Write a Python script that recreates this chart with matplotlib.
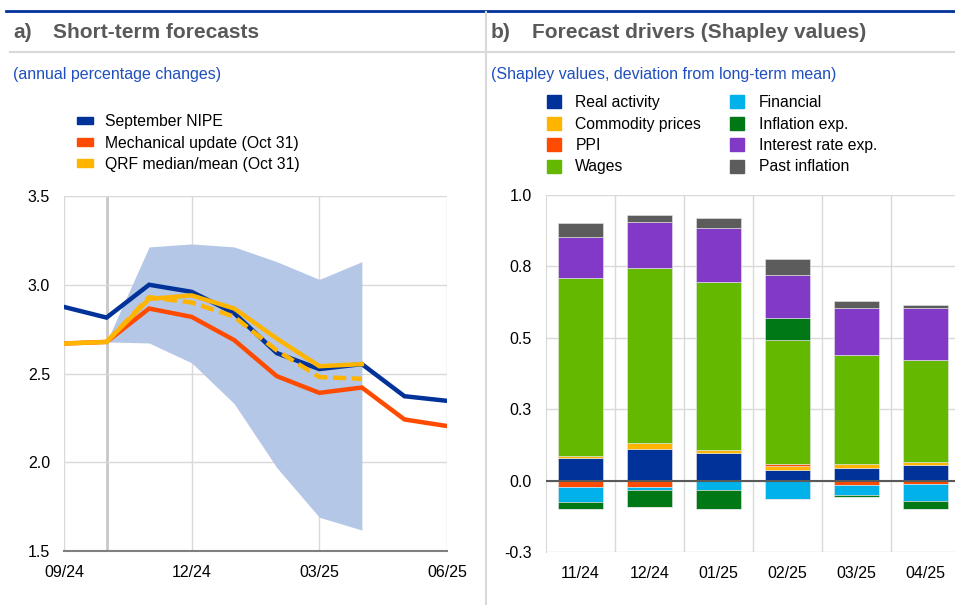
import numpy as np
import matplotlib
matplotlib.use('Agg')
import matplotlib.pyplot as plt
from matplotlib.lines import Line2D
from matplotlib.patches import Patch

plt.rcParams['font.family'] = ['Liberation Sans', 'DejaVu Sans']

#%% - Data, panel a
months = ['09/24', '10/24', '11/24', '12/24', '01/25', '02/25', '03/25', '04/25', '05/25', '06/25']
month_ticks = ['09/24', '12/24', '03/25', '06/25']
nipe = [2.875, 2.815, 3.00, 2.96, 2.84, 2.615, 2.525, 2.553, 2.372, 2.346]
mech = [2.669, 2.678, 2.866, 2.819, 2.688, 2.485, 2.391, 2.421, 2.241, 2.204]
qrf_mean = [2.669, 2.678, 2.92, 2.94, 2.866, 2.697, 2.541, 2.553]
qrf_median = [2.678, 2.93, 2.90, 2.82, 2.63, 2.48, 2.47]   # from 10/24
band_low = [2.678, 2.672, 2.56, 2.33, 1.97, 1.69, 1.618]   # from 10/24
band_high = [2.678, 3.213, 3.23, 3.213, 3.13, 3.03, 3.13]

#%% - Data, panel b
periods = ['11/24', '12/24', '01/25', '02/25', '03/25', '04/25']
drivers = ['Real activity', 'Commodity prices', 'PPI', 'Wages',
           'Financial', 'Inflation exp.', 'Interest rate exp.', 'Past inflation']
real_activity = [0.079, 0.111, 0.097, 0.036, 0.045, 0.054]
commodity = [0.006, 0.019, 0.009, 0.015, 0.014, 0.010]
ppi = [-0.023, -0.023, 0.0, 0.008, -0.017, -0.013]
wages = [0.624, 0.616, 0.588, 0.435, 0.381, 0.357]
financial = [-0.051, -0.010, -0.034, -0.065, -0.034, -0.058]
infl_exp = [-0.027, -0.058, -0.064, 0.076, -0.005, -0.030]
interest = [0.143, 0.161, 0.191, 0.150, 0.164, 0.184]
past_infl = [0.050, 0.024, 0.035, 0.056, 0.024, 0.009]
ytick_vals = [-0.25, 0.0, 0.25, 0.5, 0.75, 1.0]
ytick_labels = ['-0.3', '0.0', '0.3', '0.5', '0.8', '1.0']

#%% - Styles
dark_blue = '#003299'
orange = '#ff4b00'
yellow = '#ffb400'
driver_colors = ['#003299', '#ffb400', '#ff4b00', '#65b800',
                 '#00b1ea', '#007816', '#8139c6', '#5c5c5c']
grid_c = '#d9d9d9'
text_grey = '#595959'
sub_blue = '#1f4fbf'

W, H = 955, 605
fig = plt.figure(figsize=(W / 100, H / 100), dpi=100)

def fx(px):
    return px / W

def fy(py):
    return 1 - py / H

# header decoration
fig.add_artist(Line2D([fx(6), 1], [fy(11), fy(11)], color=dark_blue, lw=2))
fig.add_artist(Line2D([fx(10), 1], [fy(52), fy(52)], color=grid_c, lw=1.5))
fig.add_artist(Line2D([fx(486), fx(486)], [fy(12), 0], color=grid_c, lw=1.5))

fig.text(fx(13), fy(33), 'a)', fontsize=15, fontweight='bold', color=text_grey, va='center')
fig.text(fx(53), fy(33), 'Short-term forecasts', fontsize=15, fontweight='bold', color=text_grey, va='center')
fig.text(fx(491), fy(33), 'b)', fontsize=15, fontweight='bold', color=text_grey, va='center')
fig.text(fx(532), fy(33), 'Forecast drivers (Shapley values)', fontsize=15, fontweight='bold', color=text_grey, va='center')
fig.text(fx(13), fy(75), '(annual percentage changes)', fontsize=11.5, color=sub_blue, va='center')
fig.text(fx(491), fy(75), '(Shapley values, deviation from long-term mean)', fontsize=11.5, color=sub_blue, va='center')

#%% - Panel a
ax1 = fig.add_axes([fx(64), fy(551), fx(447 - 64), (551 - 196) / H])
x = np.arange(len(months))
xb = x[1:8]
ax1.fill_between(xb, band_low, band_high, color='#b4c7e7', lw=0, zorder=1)
ax1.axvline(1, color='#c8c8c8', lw=2, zorder=0.5)
ax1.plot(x, nipe, color=dark_blue, lw=3.2, zorder=3, solid_joinstyle='miter')
ax1.plot(x, mech, color=orange, lw=3.2, zorder=3, solid_joinstyle='miter')
ax1.plot(x[:8], qrf_mean, color=yellow, lw=3.2, zorder=4, solid_joinstyle='miter')
ax1.plot(xb, qrf_median, color=yellow, lw=3.2, ls=(0, (3, 1.3)), zorder=4)
ax1.set_xlim(0, 9)
ax1.set_ylim(1.5, 3.5)
ax1.set_yticks([1.5, 2.0, 2.5, 3.0, 3.5])
ax1.set_yticklabels(['1.5', '2.0', '2.5', '3.0', '3.5'])
ax1.set_xticks([months.index(m) for m in month_ticks])
ax1.set_xticklabels(month_ticks)
ax1.grid(True, color=grid_c, lw=1)
ax1.set_axisbelow(True)
for s in ['top', 'right', 'left']:
    ax1.spines[s].set_visible(False)
ax1.spines['bottom'].set_color('#7f7f7f')
ax1.spines['bottom'].set_linewidth(1.5)
ax1.spines['bottom'].set_zorder(5)
ax1.tick_params(length=0, labelsize=11.5, pad=10)
ax1.tick_params(axis='y', pad=10)

leg_handles = [Patch(color=dark_blue), Patch(color=orange), Patch(color=yellow)]
fig.legend(leg_handles, ['September NIPE', 'Mechanical update (Oct 31)', 'QRF median/mean (Oct 31)'],
           loc='upper left', bbox_to_anchor=(fx(63), fy(100)), frameon=False, fontsize=11.3,
           handlelength=1.0, handleheight=0.4, handletextpad=0.75, labelspacing=0.41)

#%% - Panel b
ax2 = fig.add_axes([fx(546), fy(552), fx(955 - 546), (552 - 195) / H])
cols = [real_activity, commodity, ppi, wages, financial, infl_exp, interest, past_infl]
xp = np.arange(len(periods))
pos_base = np.zeros(len(periods))
neg_base = np.zeros(len(periods))
handles = []
for name, vals, c in zip(drivers, cols, driver_colors):
    v = np.array(vals)
    pos = np.where(v > 0, v, 0)
    neg = np.where(v < 0, v, 0)
    ax2.bar(xp, pos, bottom=pos_base, width=0.66, color=c, edgecolor='#e8e8e8', lw=0.4, zorder=2)
    ax2.bar(xp, neg, bottom=neg_base, width=0.66, color=c, edgecolor='#e8e8e8', lw=0.4, zorder=2)
    pos_base += pos
    neg_base += neg
    handles.append(Patch(color=c, label=name))
ax2.axhline(0, color='#595959', lw=1.5, zorder=3)
ax2.set_xlim(-0.5, 5.43)
ax2.set_ylim(-0.25, 1.0)
ax2.set_yticks(ytick_vals)
ax2.set_yticklabels(ytick_labels)
ax2.set_xticks(xp)
ax2.set_xticklabels(periods)
ax2.set_xticks(xp[:-1] + 0.5, minor=True)
ax2.grid(True, axis='y', color=grid_c, lw=1)
ax2.grid(True, axis='x', which='minor', color=grid_c, lw=1)
ax2.set_axisbelow(True)
for s in ['top', 'right', 'bottom']:
    ax2.spines[s].set_visible(False)
ax2.spines['left'].set_color(grid_c)
ax2.tick_params(length=0, which='both', labelsize=11.5, pad=10)
ax2.tick_params(axis='y', pad=10)

fig.legend(handles=handles, loc='upper left', bbox_to_anchor=(fx(533), fy(81)), ncol=2,
           frameon=False, fontsize=11.3, handlelength=0.9, handleheight=0.9,
           handletextpad=0.9, labelspacing=0.41, columnspacing=1.85)

fig.savefig('out.png', dpi=100)
